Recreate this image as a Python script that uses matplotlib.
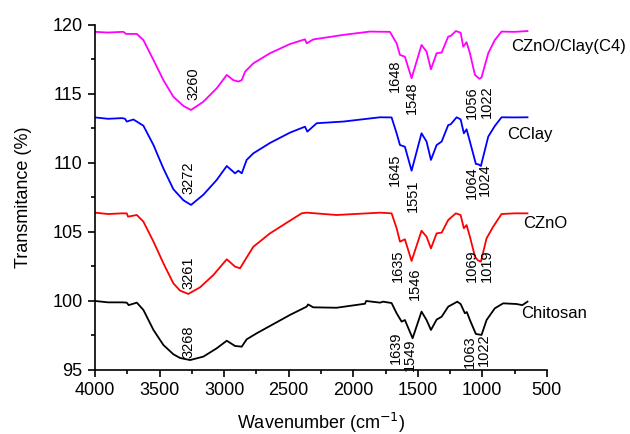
import matplotlib
matplotlib.use("Agg")
import matplotlib.pyplot as plt
from matplotlib.ticker import MultipleLocator

plt.rcParams['font.family'] = ['Liberation Sans', 'DejaVu Sans']

# wavenumber (cm-1) / transmittance (%)
wn_c4 = [4000, 3900, 3790, 3781, 3760, 3677, 3626, 3548, 3471, 3394, 3316, 3257, 3161,
         3058, 2980, 2929, 2890, 2864, 2838, 2774, 2645, 2490, 2374, 2361, 2310, 2077,
         1871, 1716, 1664, 1638, 1600, 1548, 1471, 1432, 1398, 1354, 1315, 1264, 1245,
         1205, 1168, 1148, 1122, 1096, 1057, 1022, 1006, 954, 903, 851, 750, 650]
tr_c4 = [119.5, 119.45, 119.5, 119.5, 119.35, 119.35, 118.9, 117.46, 116.0, 114.8, 114.13,
         113.84, 114.44, 115.41, 116.38, 116.0, 115.9, 116.0, 116.62, 117.22, 117.95, 118.62,
         118.96, 118.67, 118.95, 119.28, 119.52, 119.5, 118.67, 117.83, 117.7, 116.14,
         118.55, 118.07, 116.79, 117.95, 118.0, 119.16, 119.2, 119.56, 119.44, 118.43,
         118.75, 117.95, 116.38, 116.1, 116.2, 117.95, 118.91, 119.52, 119.5, 119.56]

wn_cclay = [4000, 3900, 3790, 3768, 3755, 3703, 3626, 3548, 3471, 3394, 3316, 3257, 3161,
            3058, 2980, 2916, 2890, 2864, 2826, 2774, 2645, 2490, 2374, 2356, 2283, 2077,
            1793, 1703, 1664, 1638, 1600, 1548, 1471, 1432, 1398, 1354, 1315, 1264, 1245,
            1199, 1168, 1143, 1122, 1096, 1050, 1030, 1011, 954, 903, 851, 750, 650]
tr_cclay = [113.3, 113.2, 113.25, 113.2, 113.0, 113.15, 112.7, 111.3, 109.6, 108.1, 107.3,
            106.96, 107.7, 108.77, 109.78, 109.25, 109.44, 109.25, 110.22, 110.7, 111.45,
            112.2, 112.63, 112.27, 112.88, 113.0, 113.31, 113.3, 112.15, 111.3, 111.18,
            109.44, 112.15, 111.55, 110.22, 111.3, 111.55, 112.75, 112.8, 113.31, 113.16,
            112.15, 112.44, 111.55, 109.93, 109.9, 109.78, 111.91, 112.68, 113.31, 113.3,
            113.31]

wn_czno = [4000, 3900, 3790, 3755, 3745, 3677, 3626, 3548, 3471, 3394, 3342, 3278, 3187,
           3084, 2980, 2916, 2877, 2838, 2774, 2645, 2490, 2400, 2361, 2129, 1793, 1703,
           1664, 1638, 1600, 1548, 1471, 1432, 1398, 1354, 1315, 1264, 1205, 1168, 1143,
           1122, 1096, 1057, 1035, 1011, 967, 916, 851, 750, 650]
tr_czno = [106.4, 106.3, 106.35, 106.35, 106.11, 106.23, 105.75, 104.3, 102.73, 101.28,
           100.75, 100.51, 100.99, 101.88, 103.02, 102.49, 102.37, 102.97, 103.93, 104.9,
           105.82, 106.35, 106.4, 106.23, 106.4, 106.35, 105.27, 104.3, 104.47, 102.9,
           105.09, 104.66, 103.81, 104.9, 104.95, 105.87, 106.35, 106.23, 105.27, 105.5,
           104.66, 103.21, 102.95, 102.85, 104.54, 105.38, 106.3, 106.35, 106.35]

wn_chit = [4000, 3900, 3790, 3755, 3740, 3677, 3626, 3548, 3471, 3394, 3342, 3264, 3161,
           3058, 2980, 2916, 2864, 2826, 2748, 2490, 2361, 2350, 2310, 2129, 1909, 1900,
           1793, 1768, 1703, 1664, 1625, 1600, 1540, 1471, 1432, 1398, 1354, 1315, 1264,
           1194, 1168, 1135, 1120, 1096, 1050, 1006, 967, 903, 838, 735, 690, 650]
tr_chit = [100.0, 99.9, 99.9, 99.88, 99.7, 99.88, 99.35, 97.9, 96.81, 96.14, 95.87, 95.72,
           95.97, 96.57, 97.12, 96.74, 96.69, 97.22, 97.66, 98.99, 99.59, 99.75, 99.54,
           99.51, 99.8, 100.0, 99.88, 99.95, 99.85, 99.11, 98.5, 98.62, 97.3, 99.23, 98.62,
           97.9, 98.65, 98.86, 99.59, 99.95, 99.78, 99.11, 99.2, 98.62, 97.61, 97.54, 98.62,
           99.47, 99.83, 99.78, 99.7, 99.95]

names = ['CZnO/Clay(C4)', 'CClay', 'CZnO', 'Chitosan']
name_pos = [(774, 118.43), (807, 112.03), (686, 105.58), (696, 99.11)]

# peak labels: (text, wavenumber, transmittance)
peaks = [
    ('3260', 3239, 115.76), ('1648', 1677, 116.3), ('1548', 1548, 114.75),
    ('1056', 1083, 114.35), ('1022', 967, 114.42),
    ('3272', 3278, 108.91), ('1645', 1677, 109.53), ('1551', 1535, 107.61),
    ('1064', 1083, 108.59), ('1024', 980, 108.77),
    ('3261', 3278, 102.07), ('1635', 1651, 102.54), ('1546', 1522, 101.23),
    ('1069', 1083, 102.54), ('1019', 967, 102.57),
    ('3268', 3278, 97.07), ('1639', 1669, 96.59), ('1549', 1561, 96.12),
    ('1063', 1096, 96.3), ('1022', 988, 96.45),
]

fig = plt.figure(figsize=(6.3, 4.34), dpi=100)
ax = fig.add_axes([0.151, 0.1475, 0.717, 0.795])

ax.plot(wn_c4, tr_c4, color='#ff00ff', lw=1.3)
ax.plot(wn_cclay, tr_cclay, color='#0000ff', lw=1.3)
ax.plot(wn_czno, tr_czno, color='#ff0000', lw=1.3)
ax.plot(wn_chit, tr_chit, color='black', lw=1.3)

for nm, (x, y) in zip(names, name_pos):
    ax.text(x, y, nm, fontsize=12, ha='left', va='center', clip_on=False)

for txt, x, y in peaks:
    ax.text(x, y, txt, fontsize=10.5, rotation=90, ha='center', va='center')

ax.set_xlim(4000, 500)
ax.set_ylim(95, 120)
ax.xaxis.set_major_locator(MultipleLocator(500))
ax.xaxis.set_minor_locator(MultipleLocator(250))
ax.yaxis.set_major_locator(MultipleLocator(5))
ax.yaxis.set_minor_locator(MultipleLocator(2.5))
ax.tick_params(which='major', direction='out', length=5, width=1.2, labelsize=13, pad=4)
ax.tick_params(which='minor', direction='out', length=3, width=1.2)

ax.spines['top'].set_visible(False)
ax.spines['right'].set_visible(False)
ax.spines['left'].set_linewidth(1.2)
ax.spines['bottom'].set_linewidth(1.2)

ax.set_xlabel('Wavenumber (cm$^{-1}$)', fontsize=13, labelpad=8)
ax.set_ylabel('Transmitance (%)', fontsize=13, labelpad=15)

fig.savefig('out.png', dpi=100)
